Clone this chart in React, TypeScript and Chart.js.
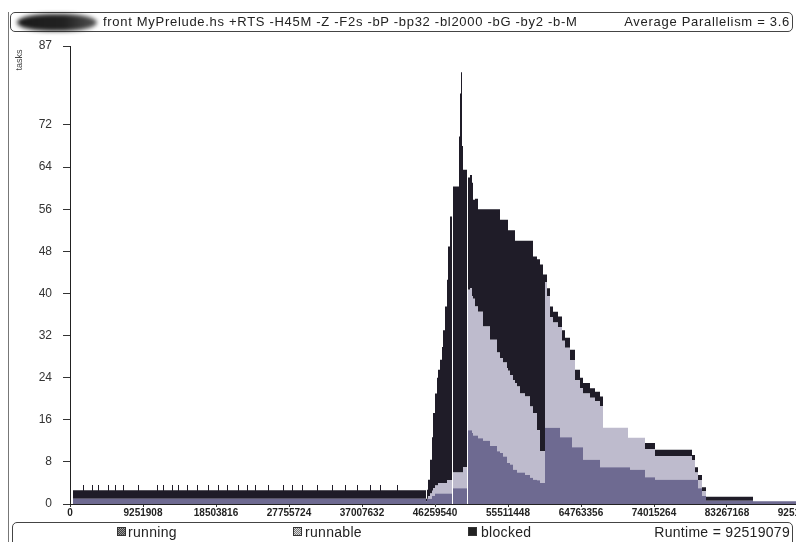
import React, { useEffect, useRef } from "react";
import { Chart, registerables } from "chart.js";

Chart.register(...registerables);

const TITLE_TEXT = "front MyPrelude.hs +RTS -H45M -Z -F2s -bP -bp32 -bl2000 -bG -by2 -b-M";
const PARALLELISM_TEXT = "Average Parallelism = 3.6";
const RUNTIME_TEXT = "Runtime = 92519079";
const Y_TITLE = "tasks";

const seriesNames = ["running", "runnable", "blocked"];
const seriesColors = ["#6e6a91", "#bebbcd", "#1f1c28"];

const yTickValues = [0, 8, 16, 24, 32, 40, 48, 56, 64, 72, 87];
const xTickValues = [0, 9251908, 18503816, 27755724, 37007632, 46259540, 55511448, 64763356, 74015264, 83267168, 92519079];
const xTickLabels = ["0", "9251908", "18503816", "27755724", "37007632", "46259540", "55511448", "64763356", "74015264", "83267168", "92519079"];

// time stamps (cycles) at which the task counts change
const times = [
  0, 380215,
  1647600, 1774338, 2788246, 2914985, 3548677, 3675415, 4816061, 4942800,
  5703231, 5829969, 6717138, 6843877, 8618215, 8744954, 11026246, 11152985,
  11786677, 11913415, 12927323, 13054061, 13687754, 13814492, 14828400, 14955138,
  16095784, 16222523, 17489907, 17616646, 18757292, 18884030, 19897938, 20024677,
  21292061, 21418800, 22432707, 22559446, 23446615, 23573354, 25094215, 25220954,
  26995292, 27122030, 28135938, 28262677, 29403323, 29530061, 31304400, 31431138,
  33205477, 33332215, 34853077, 34979815, 36373938, 36500677, 38021538, 38148277,
  39288923, 39415661, 41443476, 41570215,
  45118892, 45245630, 45372369, 45625846, 45879323, 46006061, 46259538, 46513015,
  46639754, 46893230, 47146707, 47273446, 47526923, 47780400, 47907138, 48160615,
  48414092, 48540830, 49301261, 49428000, 49554738, 49681477, 49808215, 50315169,
  50441907, 50695384, 50948861, 51075600, 51329076, 51709292, 52342984, 53230153,
  54117322, 54497538, 54877753, 55384707, 55511445, 55764922, 56145138, 56398615,
  56652092, 57032307, 57666000, 58299692, 58679907, 59186861, 59567076, 59947292,
  60200769, 60454245, 60834461, 61214676, 61848368, 62101845, 62355322, 62735538,
  63369230, 63622707, 64002922, 64636615, 65016830, 65904000, 66537692, 67171384,
  67551599, 70720061, 70973538, 72874615, 74141999, 78831322, 79211538, 79591753,
  80098707, 80605661, 86562368, 92519079,
];

const running = [
  0, 1,
  1, 1, 1, 1, 1, 1, 1, 1,
  1, 1, 1, 1, 1, 1, 1, 1,
  1, 1, 1, 1, 1, 1, 1, 1,
  1, 1, 1, 1, 1, 1, 1, 1,
  1, 1, 1, 1, 1, 1, 1, 1,
  1, 1, 1, 1, 1, 1, 1, 1,
  1, 1, 1, 1, 1, 1, 1, 1,
  1, 1, 1, 1,
  0.5, 1, 1, 1, 1.5, 1.5, 2, 2,
  2, 2, 2, 2, 2, 2, 2, 2,
  0, 3, 3, 3, 3, 3, 3, 0,
  14, 14, 13.5, 13, 13, 12.5, 12, 11,
  10, 9.7, 9, 7.8, 7.8, 7.5, 6.5, 6.5,
  6, 6, 5.5, 5, 4.6, 4.5, 4, 4,
  14.5, 14.5, 14.5, 14.5, 14.5, 12.7, 12.7, 12.7,
  12.7, 10.8, 10.8, 10.8, 8.4, 8.4, 8.4, 7,
  7, 7, 6.5, 5.1, 4.6, 4.6, 4.6, 3,
  1.5, 0.6, 0.5, 0.5,
];

const runnable = [
  0, 0,
  0, 0, 0, 0, 0, 0, 0, 0,
  0, 0, 0, 0, 0, 0, 0, 0,
  0, 0, 0, 0, 0, 0, 0, 0,
  0, 0, 0, 0, 0, 0, 0, 0,
  0, 0, 0, 0, 0, 0, 0, 0,
  0, 0, 0, 0, 0, 0, 0, 0,
  0, 0, 0, 0, 0, 0, 0, 0,
  0, 0, 0, 0,
  0, 0, 0.5, 1, 1, 1.5, 1.5, 1.5,
  2, 2, 2, 2, 2, 2.5, 2.5, 2.5,
  0, 3, 3, 3, 3, 3, 4, 0,
  26.7, 27, 26, 26, 24.5, 24, 21.7, 20.2,
  18.8, 18, 17.9, 18, 17.5, 17, 17, 16.5,
  16.3, 15, 14.9, 13.5, 12.7, 9.5, 6, 6,
  27.6, 25, 21, 20, 19.1, 20.9, 18.3, 17,
  14.6, 16.5, 12.7, 11.2, 12.6, 11.8, 11.1, 11.6,
  7.5, 5.6, 6.1, 5.3, 4.5, 3.7, 1.4, 1.5,
  0.9, 0, 0, 0,
];

const blocked = [
  0, 1.6,
  2.6, 1.6, 2.6, 1.6, 2.6, 1.6, 2.6, 1.6,
  2.6, 1.6, 2.6, 1.6, 2.6, 1.6, 2.6, 1.6,
  2.6, 1.6, 2.6, 1.6, 2.6, 1.6, 2.6, 1.6,
  2.6, 1.6, 2.6, 1.6, 2.6, 1.6, 2.6, 1.6,
  2.6, 1.6, 2.6, 1.6, 2.6, 1.6, 2.6, 1.6,
  2.6, 1.6, 2.6, 1.6, 2.6, 1.6, 2.6, 1.6,
  2.6, 1.6, 2.6, 1.6, 2.6, 1.6, 2.6, 1.6,
  2.6, 1.6, 2.6, 1.6,
  0.5, 1.7, 3.1, 6.4, 10.2, 14.3, 17.5, 20.5,
  21.5, 23.4, 25.8, 29, 33.5, 38.1, 44.4, 50.1,
  0, 54.3, 63.8, 72, 76, 62, 56.5, 0,
  21.3, 21.5, 21.5, 18.8, 20.5, 19.5, 22.3, 24.8,
  27.2, 26.3, 27.1, 28.2, 26.7, 27.5, 28.5, 27,
  27.7, 29, 29.6, 31.5, 29.7, 32.5, 35.5, 33.6,
  1.5, 1.5, 2, 2, 2, 2, 2, 1.9,
  2, 2, 2, 2, 2, 1.8, 1.8, 1.8,
  0, 0, 0, 1.2, 1.2, 1, 1, 1,
  0.8, 0.8, 0, 0,
];

const FONT = "'Liberation Sans', Arial, Helvetica, sans-serif";

export default function App() {
  const canvasRef = useRef<HTMLCanvasElement | null>(null);

  useEffect(() => {
    const canvas = canvasRef.current;
    if (!canvas) return;
    const series = [running, runnable, blocked];
    const chart = new Chart(canvas, {
      type: "line",
      data: {
        datasets: series.map((vals, i) => ({
          label: seriesNames[i],
          data: times.map((t, j) => ({ x: t, y: vals[j] })),
          backgroundColor: seriesColors[i],
          borderColor: seriesColors[i],
          borderWidth: 0,
          pointRadius: 0,
          stepped: true,
          fill: i === 0 ? "origin" : "-1",
        })),
      },
      options: {
        responsive: false,
        animation: false,
        devicePixelRatio: 1,
        events: [],
        layout: { autoPadding: false, padding: { left: 0, right: 30, top: 46, bottom: 20 } },
        plugins: {
          legend: { display: false },
          title: { display: false },
          tooltip: { enabled: false },
        },
        scales: {
          x: {
            type: "linear",
            min: 0,
            max: 92519079,
            afterBuildTicks: (s: any) => {
              s.ticks = xTickValues.map((v) => ({ value: v }));
            },
            afterFit: (s: any) => {
              s.height = 18;
            },
            ticks: {
              autoSkip: false,
              maxRotation: 0,
              minRotation: 0,
              padding: 0,
              color: "#222",
              font: { family: FONT, size: 10, weight: "bold" },
              callback: (_v: any, i: number) => xTickLabels[i],
            },
            grid: { drawOnChartArea: false, tickLength: 3, color: "#333" },
            border: { color: "#222", width: 1 },
          },
          y: {
            type: "linear",
            stacked: true,
            min: 0,
            max: 87,
            afterBuildTicks: (s: any) => {
              s.ticks = yTickValues.map((v) => ({ value: v }));
            },
            afterFit: (s: any) => {
              s.width = 70;
            },
            ticks: {
              padding: 11,
              color: "#333",
              font: { family: FONT, size: 12 },
              callback: (_v: any, i: number) => String(yTickValues[i]),
            },
            grid: { drawOnChartArea: false, tickLength: 7, color: "#333" },
            border: { color: "#222", width: 1 },
          },
        },
      },
    } as any);
    return () => chart.destroy();
  }, []);

  const swatch = (bg: string): React.CSSProperties => ({
    position: "absolute",
    top: 527,
    width: 9,
    height: 9,
    background: bg,
    border: "1px solid #333",
    boxSizing: "border-box",
  });

  const legendText: React.CSSProperties = {
    position: "absolute",
    top: 524,
    fontFamily: FONT,
    fontSize: 14,
    lineHeight: "16px",
    letterSpacing: "0.3px",
    color: "#222",
    whiteSpace: "nowrap",
  };

  const titleText: React.CSSProperties = {
    position: "absolute",
    top: 14,
    fontFamily: FONT,
    fontSize: 13,
    lineHeight: "16px",
    letterSpacing: "0.7px",
    color: "#222",
    whiteSpace: "nowrap",
  };

  return (
    <div
      style={{
        position: "fixed",
        left: 0,
        top: 0,
        width: 796,
        height: 542,
        overflow: "hidden",
        background: "#fff",
      }}
    >
      <canvas
        ref={canvasRef}
        width={830}
        height={542}
        style={{ position: "absolute", left: 0, top: 0, width: 830, height: 542 }}
      />
      {/* outer left frame line */}
      <div style={{ position: "absolute", left: 8, top: 12, width: 1, height: 530, background: "#777" }} />
      {/* title box */}
      <div
        style={{
          position: "absolute",
          left: 10,
          top: 12,
          width: 783,
          height: 20,
          border: "1px solid #444",
          borderRadius: 5,
          boxSizing: "border-box",
        }}
      />
      <div
        style={{
          position: "absolute",
          left: 17,
          top: 14,
          width: 80,
          height: 17,
          borderRadius: "50% / 60%",
          background: "linear-gradient(90deg, #1a1a1a 0%, #222 60%, #555 100%)",
          filter: "blur(2px)",
        }}
      />
      <div style={{ ...titleText, left: 103 }}>{TITLE_TEXT}</div>
      <div style={{ ...titleText, right: 6 }}>{PARALLELISM_TEXT}</div>
      {/* y axis title */}
      <div
        style={{
          position: "absolute",
          left: 19,
          top: 60,
          fontFamily: FONT,
          fontSize: 9,
          lineHeight: "9px",
          color: "#444",
          whiteSpace: "nowrap",
          transform: "translate(-50%, -50%) rotate(-90deg)",
        }}
      >
        {Y_TITLE}
      </div>
      {/* legend box */}
      <div
        style={{
          position: "absolute",
          left: 12,
          top: 522,
          width: 781,
          height: 30,
          border: "1px solid #444",
          borderRadius: 5,
          boxSizing: "border-box",
        }}
      />
      <div style={{ ...swatch("repeating-conic-gradient(#444 0% 25%, #999 0% 50%) 0 0 / 2px 2px"), left: 117 }} />
      <div style={{ ...legendText, left: 128 }}>{seriesNames[0]}</div>
      <div style={{ ...swatch("repeating-conic-gradient(#777 0% 25%, #ddd 0% 50%) 0 0 / 2px 2px"), left: 293 }} />
      <div style={{ ...legendText, left: 305 }}>{seriesNames[1]}</div>
      <div style={{ ...swatch("#222"), left: 468 }} />
      <div style={{ ...legendText, left: 481 }}>{seriesNames[2]}</div>
      <div style={{ ...legendText, right: 6 }}>{RUNTIME_TEXT}</div>
    </div>
  );
}
